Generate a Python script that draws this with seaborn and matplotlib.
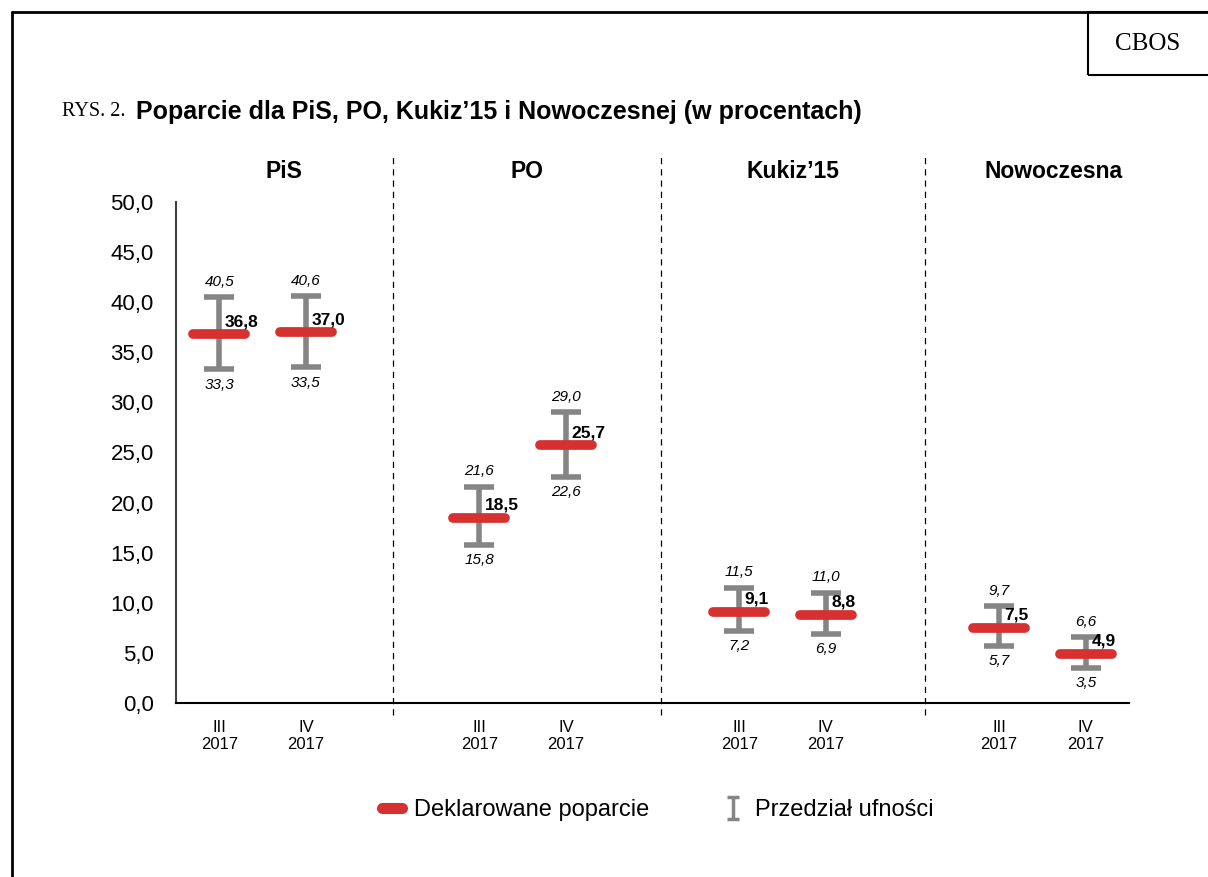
import matplotlib
matplotlib.use("Agg")
import matplotlib.pyplot as plt
from matplotlib.lines import Line2D
from matplotlib.patches import Rectangle
from matplotlib.path import Path
import numpy as np
import pandas as pd
import seaborn as sns

# data
parties = ["PiS", "PO", "Kukiz\u201915", "Nowoczesna"]
periods = ["III\n2017", "IV\n2017"]
support = [36.8, 37.0, 18.5, 25.7, 9.1, 8.8, 7.5, 4.9]
ci_low = [33.3, 33.5, 15.8, 22.6, 7.2, 6.9, 5.7, 3.5]
ci_high = [40.5, 40.6, 21.6, 29.0, 11.5, 11.0, 9.7, 6.6]

RED = "#d63031"
GRAY = "#858585"

def pl(v):
    return f"{v:.1f}".replace(".", ",")

# positions: two points per party, gap of one slot between parties
pos = []
for g in range(len(parties)):
    pos += [3 * g, 3 * g + 1]
df = pd.DataFrame({"pos": pos, "value": support, "low": ci_low, "high": ci_high,
                   "period": periods * len(parties)})

sns.set_style("white")
plt.rcParams["font.family"] = ["Liberation Sans", "DejaVu Sans"]
plt.rcParams["text.color"] = "black"
plt.rcParams["xtick.color"] = "black"
plt.rcParams["ytick.color"] = "black"

fig = plt.figure(figsize=(12.08, 8.77), dpi=100)
ax = fig.add_axes([0.1457, 0.1984, 0.789, 0.5713])

# confidence intervals
ax.errorbar(df["pos"], df["value"],
            yerr=[df["value"] - df["low"], df["high"] - df["value"]],
            fmt="none", ecolor=GRAY, elinewidth=4, capsize=11, capthick=4, zorder=2)

# declared support as short thick red bars
hl = ax.hlines(df["value"], df["pos"] - 0.3, df["pos"] + 0.3, colors=RED, linewidth=7, zorder=3)
hl.set_capstyle("round")

# labels
for _, r in df.iterrows():
    ax.annotate(pl(r["value"]), (r["pos"], r["value"]), xytext=(4, 9), textcoords="offset points",
                ha="left", va="center", fontsize=12.5, fontweight="bold")
    ax.annotate(pl(r["high"]), (r["pos"], r["high"]), xytext=(0, 11), textcoords="offset points",
                ha="center", va="center", fontsize=11, style="italic")
    ax.annotate(pl(r["low"]), (r["pos"], r["low"]), xytext=(0, -11), textcoords="offset points",
                ha="center", va="center", fontsize=11, style="italic")

# group titles and dividers
dividers = [2.0, 5.1, 8.15]
edges = [-0.5] + dividers + [11.1]
for g, name in enumerate(parties):
    ax.text((edges[g] + edges[g + 1]) / 2, 1.06, name, transform=ax.get_xaxis_transform(),
            ha="center", va="center", fontsize=16.5, fontweight="bold")
for d in dividers:
    ax.axvline(d, ymin=-0.024, ymax=1.094, color="black", linewidth=0.9,
               linestyle=(0, (5, 4)), clip_on=False)

ax.set_xlim(-0.5, 10.5)
ax.set_ylim(0, 50)
ax.set_yticks(np.arange(0, 50.1, 5))
ax.set_yticklabels([pl(v) for v in np.arange(0, 50.1, 5)], fontsize=16)
ax.set_xticks(df["pos"])
ax.set_xticklabels(df["period"], fontsize=12)
ax.tick_params(axis="both", length=0)
ax.tick_params(axis="x", pad=12)
ax.tick_params(axis="y", pad=16)
for s in ["top", "right"]:
    ax.spines[s].set_visible(False)
ax.spines["left"].set_color("#404040")
ax.spines["left"].set_linewidth(1.5)
ax.spines["bottom"].set_color("black")
ax.spines["bottom"].set_linewidth(1.5)
ax.set_xlabel("")
ax.set_ylabel("")

# legend
ibeam = Path([(-0.55, 1), (0.55, 1), (0, 1), (0, -1), (-0.55, -1), (0.55, -1)],
             [Path.MOVETO, Path.LINETO, Path.MOVETO, Path.LINETO, Path.MOVETO, Path.LINETO])
h_red = Line2D([], [], color=RED, linewidth=8, solid_capstyle="round")
h_ci = Line2D([], [], linestyle="none", marker=ibeam, markersize=16,
              markerfacecolor="none", markeredgecolor=GRAY, markeredgewidth=2.5)
fig.legend([h_red, h_ci], ["Deklarowane poparcie", "Przedzia\u0142 ufno\u015bci"],
           loc="center", bbox_to_anchor=(0.5445, 0.0764), ncol=2, frameon=False,
           fontsize=17, handlelength=0.85, handletextpad=0.5, columnspacing=3.1)

# page frame, header
fig.add_artist(Line2D([12 / 1208, 12 / 1208], [0, 1 - 12 / 877], color="black", linewidth=2,
                      transform=fig.transFigure))
fig.add_artist(Line2D([12 / 1208, 1], [1 - 12 / 877, 1 - 12 / 877], color="black", linewidth=2,
                      transform=fig.transFigure))
fig.add_artist(Rectangle((1088 / 1208, 1 - 75 / 877), 130 / 1208, 63 / 877, fill=False,
                         edgecolor="black", linewidth=1.5, transform=fig.transFigure))
fig.text(1148 / 1208, 1 - 44 / 877, "CBOS", ha="center", va="center", fontsize=18,
         family="Liberation Serif")
fig.text(62 / 1208, 1 - 112 / 877, "RYS. 2.", ha="left", va="center", fontsize=14.5,
         family="Liberation Serif")
fig.text(136 / 1208, 1 - 112 / 877, "Poparcie dla PiS, PO, Kukiz\u201915 i Nowoczesnej (w procentach)",
         ha="left", va="center", fontsize=18, fontweight="bold")

fig.savefig("out.png", dpi=100)
